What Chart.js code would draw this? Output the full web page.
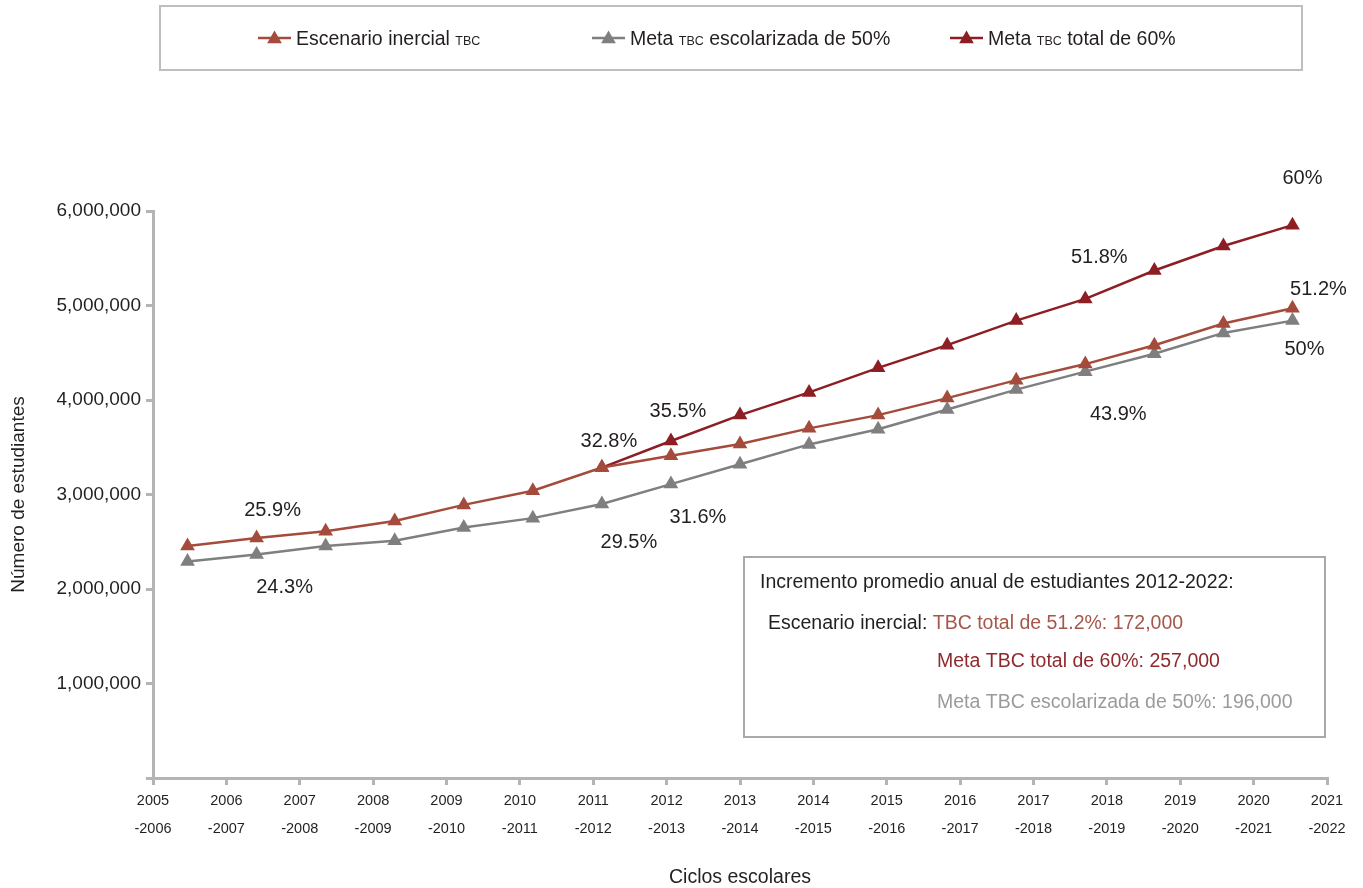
<!DOCTYPE html>
<html>
<head>
<meta charset="utf-8">
<script src="https://cdn.jsdelivr.net/npm/chart.js@4"></script>
<style>
  html, body { margin: 0; padding: 0; background: #fff; }
  #wrap { width: 1363px; height: 888px; position: relative; }
</style>
</head>
<body>
<div id="wrap"><canvas id="chart" width="1363" height="888"></canvas></div>
<script>
// Ciclos escolares
const cycles = [
    "2005-2006", "2006-2007", "2007-2008", "2008-2009", "2009-2010", "2010-2011",
    "2011-2012", "2012-2013", "2013-2014", "2014-2015", "2015-2016", "2016-2017",
    "2017-2018", "2018-2019", "2019-2020", "2020-2021", "2021-2022"
];

// Número de estudiantes
const inercial = [2455000, 2540000, 2610000, 2720000, 2890000, 3040000, 3285000, 3410000, 3535000,
    3700000, 3840000, 4020000, 4210000, 4380000, 4580000, 4810000, 4970000];
const escolarizada50 = [2290000, 2365000, 2455000, 2510000, 2650000, 2750000, 2900000, 3110000, 3320000,
    3530000, 3690000, 3900000, 4110000, 4300000, 4490000, 4710000, 4840000];
const total60 = [null, null, null, null, null, null, 3285000, 3566000, 3840000,
    4080000, 4340000, 4580000, 4840000, 5070000, 5370000, 5630000, 5850000];

const yTicks = [0, 1000000, 2000000, 3000000, 4000000, 5000000, 6000000];

// Percentage labels: text, series, point index
const pctLabels = [
    ["25.9%", "inercial", 1], ["24.3%", "esc", 1],
    ["32.8%", "total", 6], ["29.5%", "esc", 6],
    ["35.5%", "total", 7], ["31.6%", "esc", 7],
    ["51.8%", "total", 13], ["43.9%", "esc", 13],
    ["60%", "total", 16], ["51.2%", "inercial", 16], ["50%", "esc", 16]
];

const COL_INER = "#A44B3C";
const COL_TOTAL = "#8C1E24";
const COL_ESC = "#7F7F7F";
const AXIS = "#B4B4B4";
const TEXT = "#231F20";
const FONT = "'Liberation Sans Narrow', 'Arial Narrow', 'Liberation Sans', sans-serif";

// label offsets in px from the point (style only)
const pctOffsets = [[16, -27], [28, 33], [7, -26], [27, 39], [7, -30], [27, 33],
    [14, -41], [33, 43], [10, -47], [26, -19], [12, 29]];

const seriesIndex = { inercial: 0, esc: 1, total: 2 };

function drawTri(ctx, x, y, r, color) {
    ctx.beginPath();
    ctx.moveTo(x, y - r);
    ctx.lineTo(x + Math.sin(2 * Math.PI / 3) * r, y + r / 2);
    ctx.lineTo(x - Math.sin(2 * Math.PI / 3) * r, y + r / 2);
    ctx.closePath();
    ctx.fillStyle = color;
    ctx.fill();
}

const extras = {
    id: "extras",
    afterDraw(chart) {
        const ctx = chart.ctx;
        ctx.save();

        // percentage labels
        ctx.font = "20px " + FONT;
        ctx.fillStyle = TEXT;
        ctx.textAlign = "center";
        ctx.textBaseline = "middle";
        pctLabels.forEach((lab, i) => {
            const meta = chart.getDatasetMeta(seriesIndex[lab[1]]);
            const pt = meta.data[lab[2]];
            ctx.fillText(lab[0], pt.x + pctOffsets[i][0], pt.y + pctOffsets[i][1]);
        });

        // legend box
        ctx.strokeStyle = "#BEBEBE";
        ctx.lineWidth = 2;
        ctx.strokeRect(160, 6, 1142, 64);
        const items = [
            [258, COL_INER, ["Escenario inercial ", "TBC", ""]],
            [592, COL_ESC, ["Meta ", "TBC", " escolarizada de 50%"]],
            [950, COL_TOTAL, ["Meta ", "TBC", " total de 60%"]]
        ];
        const ly = 38;
        items.forEach(([x0, col, parts]) => {
            ctx.strokeStyle = col;
            ctx.lineWidth = 2.5;
            ctx.beginPath();
            ctx.moveTo(x0, ly);
            ctx.lineTo(x0 + 33, ly);
            ctx.stroke();
            drawTri(ctx, x0 + 16.5, ly + 1, 8.5, col);
            let tx = x0 + 38;
            ctx.textAlign = "left";
            ctx.textBaseline = "alphabetic";
            ctx.fillStyle = TEXT;
            parts.forEach((p, k) => {
                ctx.font = (k === 1 ? "12.5px " : "19.5px ") + FONT;
                ctx.fillText(p, tx, ly + 7);
                tx += ctx.measureText(p).width;
            });
        });

        // annotation box
        ctx.strokeStyle = "#A9A9A9";
        ctx.lineWidth = 2;
        ctx.strokeRect(744, 557, 581, 180);
        ctx.font = "19.5px " + FONT;
        ctx.textAlign = "left";
        ctx.textBaseline = "middle";
        ctx.fillStyle = TEXT;
        ctx.fillText("Incremento promedio anual de estudiantes 2012-2022:", 760, 583);
        const lead = "Escenario inercial: ";
        ctx.fillText(lead, 768, 624);
        const w = ctx.measureText(lead).width;
        ctx.fillStyle = "#A5574A";
        ctx.fillText("TBC total de 51.2%: 172,000", 768 + w, 624);
        ctx.fillStyle = "#8E2A2E";
        ctx.fillText("Meta TBC total de 60%: 257,000", 937, 662);
        ctx.fillStyle = "#9B9B9B";
        ctx.fillText("Meta TBC escolarizada de 50%: 196,000", 937, 703);

        ctx.restore();
    }
};

function lineSet(label, data, color) {
    return {
        label: label,
        data: data,
        xAxisID: "xd",
        yAxisID: "y",
        borderColor: color,
        backgroundColor: color,
        borderWidth: 2.5,
        pointStyle: "triangle",
        pointRadius: 8.5,
        pointBorderWidth: 0,
        pointBackgroundColor: color,
        tension: 0
    };
}

const ctx = document.getElementById("chart").getContext("2d");
new Chart(ctx, {
    type: "line",
    data: {
        labels: cycles,
        datasets: [
            lineSet("Escenario inercial TBC", inercial, COL_INER),
            lineSet("Meta TBC escolarizada de 50%", escolarizada50, COL_ESC),
            lineSet("Meta TBC total de 60%", total60, COL_TOTAL)
        ]
    },
    options: {
        responsive: false,
        animation: false,
        layout: { padding: { top: 211, right: 36, left: 0, bottom: 0 } },
        plugins: { legend: { display: false }, tooltip: { enabled: false } },
        scales: {
            xd: {
                type: "category",
                labels: cycles,
                offset: true,
                display: false
            },
            x: {
                type: "category",
                position: "bottom",
                labels: cycles.map(c => [c.split("-")[0], "-" + c.split("-")[1]]),
                offset: false,
                grid: { drawOnChartArea: false, color: AXIS, lineWidth: 3, tickLength: 7 },
                border: { color: AXIS, width: 3 },
                ticks: {
                    color: TEXT,
                    font: { family: FONT, size: 14.5, lineHeight: 1.93 },
                    padding: 2,
                    maxRotation: 0,
                    autoSkip: false
                },
                title: {
                    display: true,
                    text: "Ciclos escolares",
                    color: TEXT,
                    font: { family: FONT, size: 19.5, lineHeight: 1 },
                    padding: { top: 0, bottom: 1 }
                },
                afterFit: scale => { scale.height = 110; }
            },
            y: {
                min: 0,
                max: 6000000,
                afterBuildTicks: scale => { scale.ticks = yTicks.map(v => ({ value: v })); },
                grid: { drawOnChartArea: false, color: AXIS, lineWidth: 3, tickLength: 7 },
                border: { color: AXIS, width: 3 },
                ticks: {
                    color: TEXT,
                    font: { family: FONT, size: 19 },
                    padding: 5,
                    callback: v => v === 0 ? "" : v.toLocaleString("en-US")
                },
                title: {
                    display: true,
                    text: "Número de estudiantes",
                    color: TEXT,
                    font: { family: FONT, size: 19, lineHeight: 1.2 },
                    padding: { top: 7, bottom: 0 }
                },
                afterFit: scale => { scale.width = 153; }
            }
        }
    },
    plugins: [extras]
});
</script>
</body>
</html>
